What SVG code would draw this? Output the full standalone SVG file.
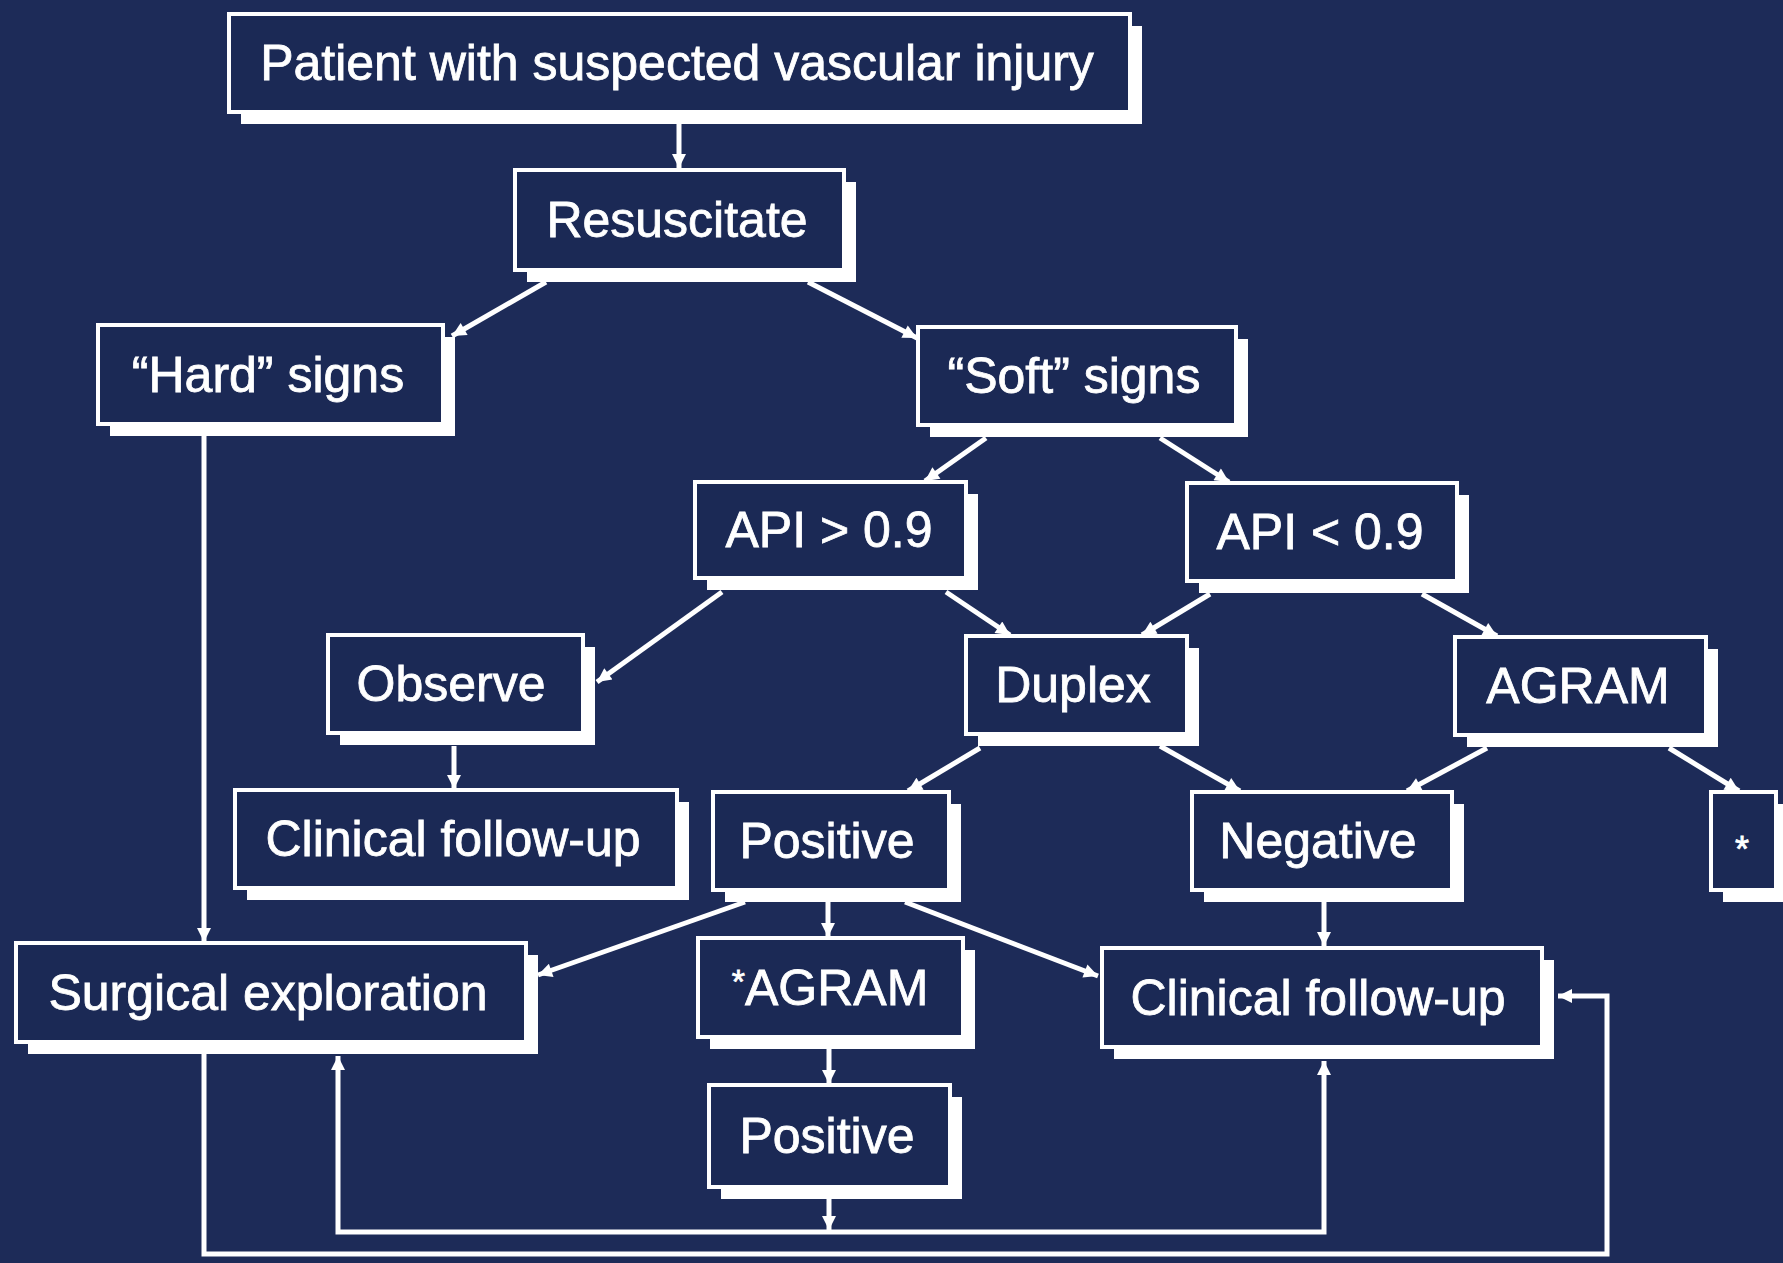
<svg xmlns="http://www.w3.org/2000/svg" width="1783" height="1263" viewBox="0 0 1783 1263">
<defs>
<style>
.bg{fill:#1d2b58}
.sh{fill:#ffffff}
.bx{fill:#1b2955;stroke:#ffffff;stroke-width:4}
.t{font-family:"Liberation Sans",Arial,sans-serif;font-size:50px;fill:#ffffff;stroke:#ffffff;stroke-width:0.8;text-anchor:middle}
.c{fill:none;stroke:#ffffff;stroke-width:5;stroke-linejoin:miter}
</style>
<marker id="ah" viewBox="0 0 10 10" refX="10" refY="5" markerWidth="20" markerHeight="14" markerUnits="userSpaceOnUse" orient="auto">
<path d="M0,0 L10,5 L0,10 z" fill="#ffffff"/>
</marker>
</defs>
<rect class="bg" x="0" y="0" width="1783" height="1263"/>

<g id="connectors">
<line class="c" x1="679" y1="124" x2="679" y2="168" marker-end="url(#ah)"/>
<line class="c" x1="546" y1="282" x2="452" y2="336" marker-end="url(#ah)"/>
<line class="c" x1="808" y1="282" x2="917" y2="338" marker-end="url(#ah)"/>
<line class="c" x1="986" y1="438" x2="925" y2="481" marker-end="url(#ah)"/>
<line class="c" x1="1160" y1="438" x2="1229" y2="482" marker-end="url(#ah)"/>
<line class="c" x1="722" y1="592" x2="597" y2="682" marker-end="url(#ah)"/>
<line class="c" x1="946" y1="592" x2="1010" y2="635" marker-end="url(#ah)"/>
<line class="c" x1="1210" y1="594" x2="1142" y2="635" marker-end="url(#ah)"/>
<line class="c" x1="1422" y1="594" x2="1497" y2="636" marker-end="url(#ah)"/>
<line class="c" x1="454" y1="746" x2="454" y2="789" marker-end="url(#ah)"/>
<line class="c" x1="980" y1="748" x2="908" y2="791" marker-end="url(#ah)"/>
<line class="c" x1="1160" y1="746" x2="1240" y2="791" marker-end="url(#ah)"/>
<line class="c" x1="1487" y1="748" x2="1407" y2="791" marker-end="url(#ah)"/>
<line class="c" x1="1669" y1="748" x2="1739" y2="791" marker-end="url(#ah)"/>
<line class="c" x1="204" y1="436" x2="204" y2="942" marker-end="url(#ah)"/>
<line class="c" x1="745" y1="902" x2="538" y2="975" marker-end="url(#ah)"/>
<line class="c" x1="828" y1="902" x2="828" y2="937" marker-end="url(#ah)"/>
<line class="c" x1="905" y1="902" x2="1098" y2="976" marker-end="url(#ah)"/>
<line class="c" x1="829" y1="1049" x2="829" y2="1084" marker-end="url(#ah)"/>
<line class="c" x1="829" y1="1199" x2="829" y2="1230" marker-end="url(#ah)"/>
<polyline class="c" points="829,1232 338,1232 338,1056" marker-end="url(#ah)"/>
<polyline class="c" points="829,1232 1324,1232 1324,1061" marker-end="url(#ah)"/>
<line class="c" x1="1324" y1="902" x2="1324" y2="946" marker-end="url(#ah)"/>
<polyline class="c" points="204,1054 204,1254 1607,1254 1607,996 1558,996" marker-end="url(#ah)"/>
</g>

<g id="n_patient">
<rect class="sh" x="241" y="26" width="901" height="98"/>
<rect class="bx" x="229" y="14" width="901" height="98"/>
<text class="t" x="677" y="80">Patient with suspected vascular injury</text>
</g>
<g id="n_resuscitate">
<rect class="sh" x="527" y="182" width="329" height="100"/>
<rect class="bx" x="515" y="170" width="329" height="100"/>
<text class="t" x="677" y="237">Resuscitate</text>
</g>
<g id="n_hard">
<rect class="sh" x="110" y="337" width="345" height="99"/>
<rect class="bx" x="98" y="325" width="345" height="99"/>
<text class="t" x="268" y="392">“Hard” signs</text>
</g>
<g id="n_soft">
<rect class="sh" x="930" y="339" width="318" height="98"/>
<rect class="bx" x="918" y="327" width="318" height="98"/>
<text class="t" x="1074" y="393">“Soft” signs</text>
</g>
<g id="n_api_gt">
<rect class="sh" x="707" y="494" width="271" height="96"/>
<rect class="bx" x="695" y="482" width="271" height="96"/>
<text class="t" x="829" y="547">API &gt; 0.9</text>
</g>
<g id="n_api_lt">
<rect class="sh" x="1199" y="495" width="270" height="98"/>
<rect class="bx" x="1187" y="483" width="270" height="98"/>
<text class="t" x="1320" y="549">API &lt; 0.9</text>
</g>
<g id="n_observe">
<rect class="sh" x="340" y="647" width="255" height="98"/>
<rect class="bx" x="328" y="635" width="255" height="98"/>
<text class="t" x="451" y="701">Observe</text>
</g>
<g id="n_duplex">
<rect class="sh" x="978" y="648" width="221" height="98"/>
<rect class="bx" x="966" y="636" width="221" height="98"/>
<text class="t" x="1073" y="702">Duplex</text>
</g>
<g id="n_agram">
<rect class="sh" x="1467" y="649" width="251" height="98"/>
<rect class="bx" x="1455" y="637" width="251" height="98"/>
<text class="t" x="1578" y="703">AGRAM</text>
</g>
<g id="n_followup1">
<rect class="sh" x="247" y="802" width="442" height="98"/>
<rect class="bx" x="235" y="790" width="442" height="98"/>
<text class="t" x="453" y="856">Clinical follow-up</text>
</g>
<g id="n_positive1">
<rect class="sh" x="725" y="804" width="236" height="98"/>
<rect class="bx" x="713" y="792" width="236" height="98"/>
<text class="t" x="827" y="858">Positive</text>
</g>
<g id="n_negative">
<rect class="sh" x="1204" y="804" width="260" height="98"/>
<rect class="bx" x="1192" y="792" width="260" height="98"/>
<text class="t" x="1318" y="858">Negative</text>
</g>
<g id="n_star">
<rect class="sh" x="1723" y="804" width="65" height="98"/>
<rect class="bx" x="1711" y="792" width="65" height="98"/>
<text class="t" x="1742" y="862" style="font-size:36px">*</text>
</g>
<g id="n_surgical">
<rect class="sh" x="28" y="955" width="510" height="99"/>
<rect class="bx" x="16" y="943" width="510" height="99"/>
<text class="t" x="268" y="1010">Surgical exploration</text>
</g>
<g id="n_agram2">
<rect class="sh" x="710" y="950" width="265" height="99"/>
<rect class="bx" x="698" y="938" width="265" height="99"/>
<text class="t" x="830" y="1005"><tspan style="font-size:34px" dy="-12">*</tspan><tspan dy="12">AGRAM</tspan></text>
</g>
<g id="n_followup2">
<rect class="sh" x="1114" y="960" width="440" height="99"/>
<rect class="bx" x="1102" y="948" width="440" height="99"/>
<text class="t" x="1318" y="1015">Clinical follow-up</text>
</g>
<g id="n_positive2">
<rect class="sh" x="721" y="1097" width="241" height="102"/>
<rect class="bx" x="709" y="1085" width="241" height="102"/>
<text class="t" x="827" y="1153">Positive</text>
</g>
</svg>
